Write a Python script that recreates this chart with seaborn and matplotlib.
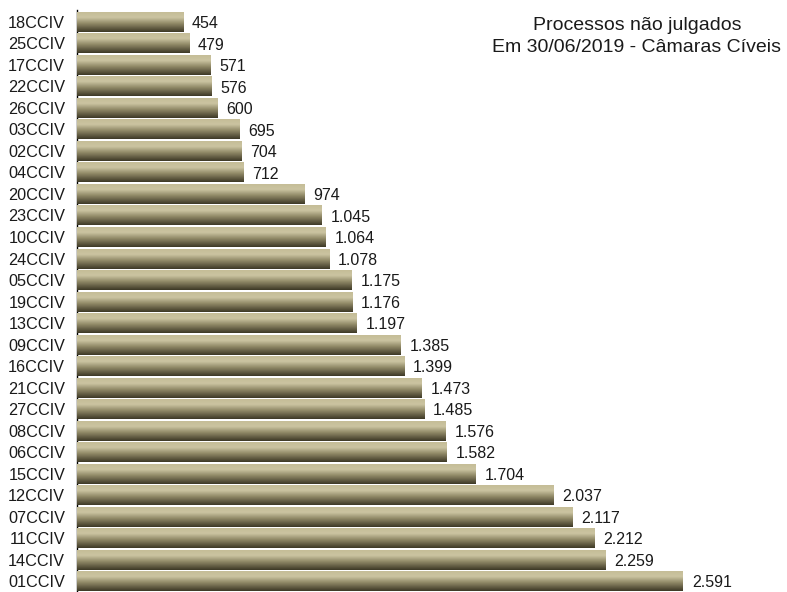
import numpy as np
import pandas as pd
import matplotlib
matplotlib.use("Agg")
import matplotlib.pyplot as plt
import seaborn as sns
from matplotlib.colors import LinearSegmentedColormap

categories = ["18CCIV", "25CCIV", "17CCIV", "22CCIV", "26CCIV", "03CCIV", "02CCIV",
              "04CCIV", "20CCIV", "23CCIV", "10CCIV", "24CCIV", "05CCIV", "19CCIV",
              "13CCIV", "09CCIV", "16CCIV", "21CCIV", "27CCIV", "08CCIV", "06CCIV",
              "15CCIV", "12CCIV", "07CCIV", "11CCIV", "14CCIV", "01CCIV"]
values = [454, 479, 571, 576, 600, 695, 704, 712, 974, 1045, 1064, 1078, 1175,
          1176, 1197, 1385, 1399, 1473, 1485, 1576, 1582, 1704, 2037, 2117, 2212,
          2259, 2591]
title_lines = ["Processos não julgados", "Em 30/06/2019 - Câmaras Cíveis"]

df = pd.DataFrame({"cat": categories, "val": values})

sns.set_style("white")
plt.rcParams['font.family'] = ['Liberation Sans', 'DejaVu Sans']

fig = plt.figure(figsize=(7.87, 5.92), dpi=100)
ax = fig.add_axes([77/787, 0/592, 1 - 77/787, 582/592])

sns.barplot(data=df, y="cat", x="val", orient="h", ax=ax, width=0.93,
            color="#8a8363", edgecolor="none", saturation=1)

cmap = LinearSegmentedColormap.from_list(
    "olive", [(0.0, "#c4bc95"), (0.3, "#cbc4a1"), (0.6, "#8f8866"), (1.0, "#3e3926")])
grad = np.linspace(0, 1, 64).reshape(-1, 1)
for p in ax.patches:
    x0, y0 = p.get_x(), p.get_y()
    w, h = p.get_width(), p.get_height()
    im = ax.imshow(grad, cmap=cmap, aspect="auto",
                   extent=[x0, x0 + w, y0 + h, y0], origin="upper", zorder=3)
    im.set_clip_path(p)

ax.set_xlim(0, 3036)
ax.set_ylim(len(categories) - 0.5, -0.5 - 0.05)

for i, v in enumerate(values):
    ax.text(v + 38, i + 0.08, f"{v:,}".replace(",", "."), va="center", ha="left",
            fontsize=11.5, color="#1a1a1a", zorder=5)

ax.set_xlabel("")
ax.set_ylabel("")
ax.set_xticks([])
ax.set_yticks(range(len(categories)))
ax.set_yticklabels(categories, fontsize=11.7, color="#1a1a1a")
ax.tick_params(axis="y", which="major", length=0, pad=8.5)
ax.set_yticks(np.arange(-0.5, len(categories), 1), minor=True)
ax.tick_params(axis="y", which="minor", length=5, width=0.8, color="#808080", direction="out")
for s in ["top", "right", "bottom"]:
    ax.spines[s].set_visible(False)
ax.spines["left"].set_color("#000000")
ax.spines["left"].set_linewidth(1.0)

fig.text(637/787, 1 - 26/592, title_lines[0], ha="center", va="center", fontsize=14, color="#1a1a1a")
fig.text(637/787, 1 - 48/592, title_lines[1], ha="center", va="center", fontsize=14, color="#1a1a1a")

fig.savefig("out.png", dpi=100)
